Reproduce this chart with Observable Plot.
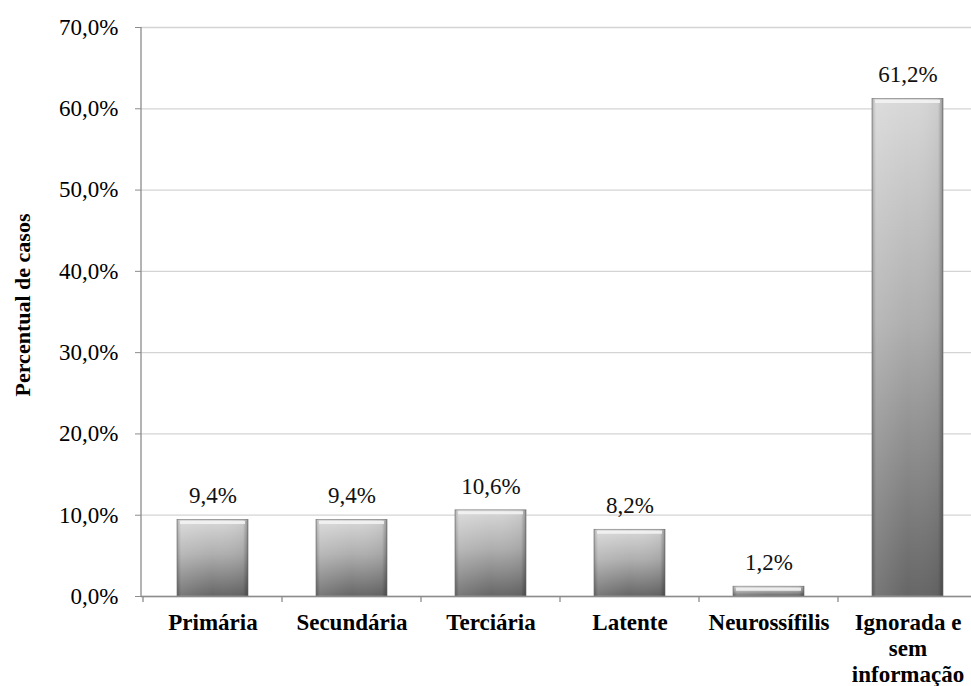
<!DOCTYPE html>
<html>
<head>
<meta charset="utf-8">
<script src="https://cdn.jsdelivr.net/npm/d3@7"></script>
<script src="https://cdn.jsdelivr.net/npm/@observablehq/plot@0.6"></script>
<style>
  html, body { margin: 0; padding: 0; background: #fff; }
  #chart { position: relative; width: 971px; height: 686px; }
</style>
</head>
<body>
<div id="chart"></div>
<script>
const categories = ["Primária", "Secundária", "Terciária", "Latente", "Neurossífilis", "Ignorada e\nsem\ninformação"];
const values = [9.4, 9.4, 10.6, 8.2, 1.2, 61.2];
const yTicks = [0, 10, 20, 30, 40, 50, 60, 70];

const data = categories.map((c, i) => ({category: c, value: values[i]}));
const fmt = v => v.toFixed(1).replace(".", ",") + "%";
const serif = "Liberation Serif, DejaVu Serif, serif";

// tick marks between categories (band boundaries), derived from the x scale
function bandBoundaryTicks(index, scales, values_, dims) {
  const x = scales.x;
  const step = x.step();
  const g = d3.create("svg:g").attr("stroke", "#8c8c8c").attr("stroke-width", 1.3);
  const y0 = dims.height - dims.marginBottom;
  const first = x(categories[0]) - (step - x.bandwidth()) / 2;
  for (let i = 0; i <= categories.length; i++) {
    const px = first + i * step;
    g.append("line").attr("x1", px).attr("x2", px).attr("y1", y0).attr("y2", y0 + 6);
  }
  return g.node();
}

const plot = Plot.plot({
  width: 971,
  height: 686,
  marginLeft: 141,
  marginRight: -8,
  marginTop: 27,
  marginBottom: 90,
  style: {fontFamily: serif, background: "#fff", color: "#000"},
  x: {domain: categories, paddingInner: 0.49, paddingOuter: 0.245, label: null},
  y: {domain: [0, 70], label: null},
  marks: [
    Plot.gridY(yTicks, {stroke: "#d4d4d4", strokeOpacity: 1, strokeWidth: 1.3}),
    Plot.rectY(data, {x: "category", y: "value", fill: "url(#barGrad)", stroke: "#8a8a8a", strokeWidth: 0.8}),
    Plot.rectY(data, {x: "category", y: "value", fill: "url(#edgeGrad)"}),
    Plot.tickY(data, {x: "category", y: "value", stroke: "#f4f4f4", strokeOpacity: 0.85, strokeWidth: 3, dy: 2.5, inset: 3}),
    Plot.text(data, {x: "category", y: "value", text: d => fmt(d.value), dy: -24, fontSize: 23, fill: "#111", fontFamily: serif}),
    Plot.ruleY([0], {stroke: "#8c8c8c", strokeWidth: 1.3}),
    Plot.axisY(yTicks, {tickFormat: fmt, tickSize: 6, tickPadding: 17, fontSize: 23, stroke: "#8c8c8c", fontFamily: serif, label: null}),
    Plot.axisX({tickSize: 0, tickPadding: 15.5, fontSize: 23, fontWeight: "bold", lineHeight: 1.13, fontFamily: serif, label: null}),
    bandBoundaryTicks
  ]
});

// y axis line
const svg = d3.select(plot);
svg.append("line").attr("x1", 141).attr("x2", 141).attr("y1", 27).attr("y2", 596)
  .attr("stroke", "#8c8c8c").attr("stroke-width", 1.3);

// gradient defs
const defs = svg.insert("defs", ":first-child");
const g1 = defs.append("linearGradient").attr("id", "barGrad").attr("x1", 0).attr("y1", 0).attr("x2", 0).attr("y2", 1);
g1.append("stop").attr("offset", "0%").attr("stop-color", "#d8d8d8");
g1.append("stop").attr("offset", "45%").attr("stop-color", "#afafaf");
g1.append("stop").attr("offset", "100%").attr("stop-color", "#666");
const g2 = defs.append("linearGradient").attr("id", "edgeGrad").attr("x1", 0).attr("y1", 0).attr("x2", 1).attr("y2", 0);
g2.append("stop").attr("offset", "0%").attr("stop-color", "#000").attr("stop-opacity", 0.2);
g2.append("stop").attr("offset", "6%").attr("stop-color", "#fff").attr("stop-opacity", 0.12);
g2.append("stop").attr("offset", "50%").attr("stop-color", "#fff").attr("stop-opacity", 0);
g2.append("stop").attr("offset", "93%").attr("stop-color", "#000").attr("stop-opacity", 0.05);
g2.append("stop").attr("offset", "100%").attr("stop-color", "#000").attr("stop-opacity", 0.32);

// y axis title
svg.append("text")
  .attr("transform", "translate(25,305) rotate(-90)")
  .attr("text-anchor", "middle")
  .attr("dominant-baseline", "middle")
  .attr("font-family", serif)
  .attr("font-weight", "bold")
  .attr("font-size", 22)
  .attr("fill", "#000")
  .text("Percentual de casos");

document.getElementById("chart").appendChild(plot);
</script>
</body>
</html>
